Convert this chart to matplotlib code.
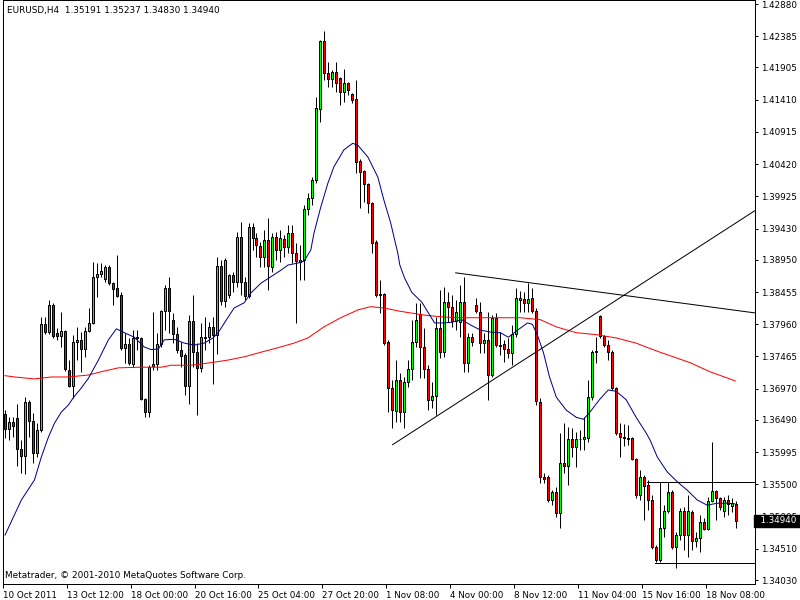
import matplotlib.pyplot as plt

# EURUSD H4 candles, bar 0 = first visible bar
opens = [1.3658, 1.3635, 1.3646, 1.3652, 1.3604, 1.3594, 1.3677, 1.3647, 1.3598, 1.3634,
         1.3796, 1.3784, 1.3826, 1.3783, 1.3778, 1.3786, 1.3726, 1.3701, 1.3769, 1.3772,
         1.3758, 1.3786, 1.3798, 1.3869, 1.3873, 1.3866, 1.3884, 1.3859, 1.3852, 1.3841,
         1.3760, 1.3766, 1.3735, 1.3776, 1.3775, 1.3681, 1.3661, 1.3732, 1.3735, 1.3766,
         1.3816, 1.3852, 1.3803, 1.3781, 1.3757, 1.3749, 1.3701, 1.3801, 1.3753, 1.3729,
         1.3776, 1.3776, 1.3792, 1.3780, 1.3886, 1.3832, 1.3841, 1.3872, 1.3861, 1.3930,
         1.3861, 1.3839, 1.3945, 1.3928, 1.3916, 1.3899, 1.3926, 1.3884, 1.3930, 1.3910,
         1.3927, 1.3915, 1.3936, 1.3906, 1.3892, 1.3895, 1.3973, 1.3990, 1.4018, 1.4127,
         1.4231, 1.4182, 1.4173, 1.4184, 1.4174, 1.4153, 1.4167, 1.4150, 1.4142, 1.4047,
         1.4031, 1.4012, 1.3982, 1.3922, 1.3842, 1.3842, 1.3769, 1.3698, 1.3663, 1.3710,
         1.3661, 1.3707, 1.3727, 1.3769, 1.3812, 1.3761, 1.3727, 1.3680, 1.3686, 1.3790,
         1.3753, 1.3830, 1.3823, 1.3801, 1.3799, 1.3830, 1.3737, 1.3776, 1.3826, 1.3815,
         1.3767, 1.3772, 1.3718, 1.3806, 1.3764, 1.3766, 1.3758, 1.3752, 1.3781, 1.3833,
         1.3835, 1.3829, 1.3836, 1.3816, 1.3677, 1.3561, 1.3561, 1.3526, 1.3538, 1.3506,
         1.3583, 1.3578, 1.3620, 1.3607, 1.3620, 1.3620, 1.3621, 1.3684, 1.3753, 1.3809,
         1.3778, 1.3764, 1.3753, 1.3698, 1.3629, 1.3623, 1.3621, 1.3621, 1.3589, 1.3534,
         1.3561, 1.3549, 1.3526, 1.3454, 1.3434, 1.3483, 1.3509, 1.3538, 1.3454, 1.3472,
         1.3509, 1.3472, 1.3508, 1.3463, 1.3468, 1.3492, 1.3481, 1.3524, 1.3540, 1.3529,
         1.3509, 1.3526, 1.3517, 1.35191]
highs = [1.3664, 1.3654, 1.3654, 1.3674, 1.3618, 1.3684, 1.3680, 1.3660, 1.3644, 1.3807,
         1.3807, 1.3833, 1.3829, 1.3790, 1.3815, 1.3787, 1.3741, 1.3780, 1.3792, 1.3784,
         1.3792, 1.3821, 1.3892, 1.3890, 1.3890, 1.3887, 1.3887, 1.3861, 1.3902, 1.3846,
         1.3783, 1.3775, 1.3787, 1.3787, 1.3776, 1.3683, 1.3734, 1.3815, 1.3783, 1.3818,
         1.3856, 1.3869, 1.3813, 1.3792, 1.3769, 1.3752, 1.3810, 1.3841, 1.3767, 1.3798,
         1.3807, 1.3799, 1.3807, 1.3899, 1.3895, 1.3898, 1.3873, 1.3876, 1.3938, 1.3953,
         1.3869, 1.3952, 1.3952, 1.3936, 1.3922, 1.3941, 1.3959, 1.3936, 1.3938, 1.3941,
         1.3933, 1.3949, 1.3949, 1.3921, 1.3918, 1.3979, 1.3998, 1.4022, 1.4145, 1.4233,
         1.4247, 1.4199, 1.4187, 1.4199, 1.4176, 1.4188, 1.4168, 1.4151, 1.4171, 1.4050,
         1.4033, 1.4013, 1.3984, 1.3926, 1.3864, 1.3844, 1.3772, 1.3710, 1.3741, 1.3721,
         1.3715, 1.3741, 1.3803, 1.3829, 1.3829, 1.3790, 1.3734, 1.3707, 1.3807, 1.3849,
         1.3853, 1.3846, 1.3841, 1.3833, 1.3856, 1.3869, 1.3783, 1.3783, 1.3836, 1.3830,
         1.3783, 1.3815, 1.3810, 1.3813, 1.3784, 1.3772, 1.3775, 1.3795, 1.3852, 1.3847,
         1.3846, 1.3859, 1.3852, 1.3821, 1.3683, 1.3567, 1.3564, 1.3541, 1.3546, 1.3629,
         1.3644, 1.3638, 1.3637, 1.3630, 1.3634, 1.3654, 1.3710, 1.3757, 1.3776, 1.3810,
         1.3780, 1.3772, 1.3757, 1.3700, 1.3644, 1.3643, 1.3641, 1.3623, 1.3590, 1.3572,
         1.3564, 1.3557, 1.3534, 1.3457, 1.3554, 1.3518, 1.3554, 1.3541, 1.3477, 1.3514,
         1.3515, 1.3534, 1.3511, 1.3477, 1.3503, 1.3498, 1.3530, 1.3615, 1.3541, 1.3530,
         1.3530, 1.3534, 1.3529, 1.35237]
lows = [1.3621, 1.3618, 1.3623, 1.3578, 1.3567, 1.3566, 1.3623, 1.3583, 1.3592, 1.3630,
        1.3781, 1.3781, 1.3775, 1.3772, 1.3761, 1.3724, 1.3700, 1.3683, 1.3741, 1.3723,
        1.3746, 1.3784, 1.3796, 1.3838, 1.3869, 1.3861, 1.3856, 1.3826, 1.3838, 1.3757,
        1.3737, 1.3733, 1.3730, 1.3757, 1.3680, 1.3654, 1.3654, 1.3726, 1.3726, 1.3761,
        1.3787, 1.3783, 1.3767, 1.3752, 1.3730, 1.3687, 1.3674, 1.3730, 1.3657, 1.3723,
        1.3757, 1.3767, 1.3704, 1.3750, 1.3826, 1.3823, 1.3836, 1.3846, 1.3853, 1.3841,
        1.3833, 1.3836, 1.3910, 1.3899, 1.3884, 1.3884, 1.3849, 1.3876, 1.3895, 1.3892,
        1.3899, 1.3906, 1.3890, 1.3798, 1.3864, 1.3864, 1.3964, 1.3979, 1.4013, 1.4107,
        1.4171, 1.4161, 1.4161, 1.4153, 1.4133, 1.4138, 1.4148, 1.4136, 1.4028, 1.3975,
        1.3984, 1.3967, 1.3906, 1.3838, 1.3813, 1.3764, 1.3661, 1.3637, 1.3646, 1.3646,
        1.3637, 1.3700, 1.3710, 1.3761, 1.3713, 1.3713, 1.3664, 1.3667, 1.3657, 1.3744,
        1.3746, 1.3799, 1.3792, 1.3787, 1.3776, 1.3723, 1.3723, 1.3763, 1.3813, 1.3752,
        1.3752, 1.3680, 1.3715, 1.3761, 1.3749, 1.3738, 1.3744, 1.3733, 1.3776, 1.3815,
        1.3815, 1.3815, 1.3813, 1.3672, 1.3552, 1.3552, 1.3523, 1.3518, 1.3500, 1.3483,
        1.3567, 1.3549, 1.3592, 1.3577, 1.3603, 1.3603, 1.3615, 1.3680, 1.3737, 1.3775,
        1.3761, 1.3741, 1.3695, 1.3626, 1.3592, 1.3609, 1.3610, 1.3587, 1.3529, 1.3526,
        1.3495, 1.3511, 1.3451, 1.3431, 1.3431, 1.3469, 1.3506, 1.3451, 1.3422, 1.3465,
        1.3449, 1.3438, 1.3449, 1.3454, 1.3446, 1.3480, 1.3480, 1.3523, 1.3495, 1.3511,
        1.3500, 1.3503, 1.3508, 1.34830]
closes = [1.3635, 1.3646, 1.3640, 1.3604, 1.3594, 1.3677, 1.3647, 1.3598, 1.3634, 1.3796,
          1.3784, 1.3826, 1.3778, 1.3778, 1.3786, 1.3727, 1.3701, 1.3769, 1.3772, 1.3758,
          1.3786, 1.3798, 1.3869, 1.3873, 1.3878, 1.3884, 1.3859, 1.3850, 1.3839, 1.3760,
          1.3766, 1.3737, 1.3775, 1.3775, 1.3681, 1.3661, 1.3730, 1.3735, 1.3766, 1.3816,
          1.3852, 1.3816, 1.3781, 1.3757, 1.3747, 1.3701, 1.3801, 1.3753, 1.3729, 1.3776,
          1.3775, 1.3792, 1.3780, 1.3886, 1.3832, 1.3895, 1.3872, 1.3861, 1.3930, 1.3861,
          1.3839, 1.3945, 1.3928, 1.3918, 1.3899, 1.3926, 1.3886, 1.3930, 1.3910, 1.3928,
          1.3915, 1.3936, 1.3906, 1.3893, 1.3895, 1.3973, 1.3990, 1.4018, 1.4128, 1.4231,
          1.4182, 1.4173, 1.4184, 1.4167, 1.4153, 1.4167, 1.4156, 1.4141, 1.4045, 1.4030,
          1.4012, 1.3982, 1.3921, 1.3841, 1.3841, 1.3767, 1.3698, 1.3664, 1.3710, 1.3661,
          1.3707, 1.3727, 1.3769, 1.3803, 1.3761, 1.3727, 1.3680, 1.3686, 1.3790, 1.3753,
          1.3830, 1.3823, 1.3801, 1.3815, 1.3830, 1.3737, 1.3776, 1.3769, 1.3816, 1.3767,
          1.3772, 1.3718, 1.3806, 1.3764, 1.3763, 1.3758, 1.3752, 1.3781, 1.3836, 1.3836,
          1.3829, 1.3835, 1.3816, 1.3678, 1.3561, 1.3558, 1.3526, 1.3538, 1.3506, 1.3583,
          1.3578, 1.3620, 1.3607, 1.3620, 1.3619, 1.3623, 1.3684, 1.3753, 1.3755, 1.3778,
          1.3764, 1.3753, 1.3698, 1.3629, 1.3623, 1.3621, 1.3620, 1.3589, 1.3534, 1.3561,
          1.3547, 1.3526, 1.3454, 1.3434, 1.3483, 1.3509, 1.3538, 1.3454, 1.3472, 1.3509,
          1.3472, 1.3509, 1.3463, 1.3468, 1.3492, 1.3481, 1.3524, 1.3540, 1.3529, 1.3515,
          1.3526, 1.3520, 1.3521, 1.34940]

# moving averages at these bar positions
fast_bars = [0, 4.1, 7.4, 9.1, 10.9, 12.4, 14.1, 15.9, 17.1, 19.1, 20.9, 23.4, 25.9, 27.9,
             29.9, 32.4, 34.9, 36.6, 38.4, 39.9, 42.4, 44.9, 47.4, 49.9, 52.1, 53.4, 55.9,
             57.4, 59.9, 61.6, 64.1, 66.6, 69.1, 70.9, 73.4, 74.9, 76.6, 77.4, 79.1, 80.9,
             82.4, 84.9, 87.1, 88.4, 90.9, 93.4, 94.9, 96.6, 98.4, 98.9, 100.1, 101.9, 104.4,
             105.9, 107.6, 109.6, 111.9, 114.4, 116.6, 119.1, 121.6, 124.1, 126.1, 128.4,
             130.9, 132.1, 133.4, 134.9, 136.4, 138.1, 140.6, 143.1, 144.9, 146.4, 148.9,
             151.1, 153.1, 155.6, 158.1, 160.6, 161.6, 163.4, 165.9, 168.4, 170.9, 173.4,
             175.9, 178.4, 180.9, 182.9]
ma_fast = [1.3472, 1.3526, 1.3557, 1.3592, 1.3623, 1.3644, 1.3661, 1.3672, 1.3683, 1.3698,
           1.3713, 1.3741, 1.3772, 1.3789, 1.3783, 1.3776, 1.3761, 1.3757, 1.3758, 1.3772,
           1.3773, 1.3767, 1.3764, 1.3767, 1.3775, 1.3783, 1.3807, 1.3821, 1.3829, 1.3844,
           1.3859, 1.3869, 1.3879, 1.3887, 1.3890, 1.3893, 1.3910, 1.3936, 1.3976, 1.4013,
           1.4038, 1.4064, 1.4074, 1.4071, 1.4053, 1.4022, 1.3987, 1.3952, 1.3905, 1.3887,
           1.3867, 1.3845, 1.3830, 1.3815, 1.3798, 1.3798, 1.3799, 1.3803, 1.3795, 1.3787,
           1.3784, 1.3783, 1.3776, 1.3787, 1.3798, 1.3796, 1.3779, 1.3752, 1.3715, 1.3684,
           1.3664, 1.3653, 1.3650, 1.3660, 1.3680, 1.3695, 1.3693, 1.3680, 1.3653, 1.3629,
           1.3618, 1.3592, 1.3569, 1.3554, 1.3541, 1.3526, 1.3518, 1.3521, 1.3521, 1.3520]
slow_bars = [0, 2.4, 7.4, 11.6, 15.9, 20.9, 24.1, 28.4, 34.1, 39.1, 41.6, 46.6, 51.6, 55.9,
             59.9, 64.1, 68.4, 72.4, 75.9, 79.9, 84.1, 88.4, 91.6, 94.9, 98.9, 105.1, 110.1,
             115.1, 124.1, 129.1, 134.1, 138.1, 143.1, 148.1, 153.1, 158.1, 160.6, 164.1,
             171.6, 176.6, 182.9]
ma_slow = [1.3717, 1.3715, 1.3712, 1.3715, 1.3715, 1.3718, 1.3723, 1.3729, 1.3730, 1.3730,
           1.3733, 1.3733, 1.3737, 1.3741, 1.3746, 1.3753, 1.3760, 1.3767, 1.3775, 1.3792,
           1.3806, 1.3818, 1.3823, 1.3821, 1.3816, 1.3810, 1.3807, 1.3806, 1.3806, 1.3806,
           1.3803, 1.3792, 1.3783, 1.3780, 1.3775, 1.3767, 1.3761, 1.3753, 1.3737, 1.3723,
           1.3709]

# drawn objects: trendlines (two anchor points, ray to the right) and horizontal rays
trend_up = ([97.1, 154.4], [1.3611, 1.3838])
trend_down = ([112.9, 161.6], [1.3875, 1.3835])
hline_top = (160.9, 1.3553)
hline_bottom = (162.9, 1.3429)

price_ticks = [1.42880, 1.42385, 1.41905, 1.41410, 1.40915, 1.40420, 1.39925, 1.39430,
               1.38950, 1.38455, 1.37960, 1.37465, 1.36970, 1.36490, 1.35995, 1.35500,
               1.35005, 1.34510, 1.34030]
date_labels = ["10 Oct 2011", "13 Oct 12:00", "18 Oct 00:00", "20 Oct 16:00", "25 Oct 04:00",
               "27 Oct 20:00", "1 Nov 08:00", "4 Nov 00:00", "8 Nov 12:00", "11 Nov 04:00",
               "15 Nov 16:00", "18 Nov 08:00"]
date_bars = [0, 16, 32, 48, 64, 80, 96, 112, 128, 144, 160, 176]

px = 0.72  # one pixel in points at 100 dpi
font = "DejaVu Sans"

fig = plt.figure(figsize=(8, 6), dpi=100)
ax = fig.add_axes([3 / 800, 16 / 600, 752 / 800, 584 / 600])
ax.set_xlim(-0.125, 187.875)
ax.set_ylim(1.33969, 1.42942)

n = len(opens)
x = list(range(n))
ax.vlines(x, lows, highs, color="black", linewidth=px, zorder=2)
bottoms = [min(o, c) for o, c in zip(opens, closes)]
heights = [abs(c - o) for o, c in zip(opens, closes)]
fills = ["#00FF00" if c > o else "#FF0000" for o, c in zip(opens, closes)]
ax.bar(x, heights, bottom=bottoms, width=0.5, color=fills, edgecolor="black",
       linewidth=px, zorder=3)

ax.plot(slow_bars, ma_slow, color="#FF0000", linewidth=px, zorder=4)
ax.plot(fast_bars, ma_fast, color="#000080", linewidth=px, zorder=4)

x_right = 187.875
for bx, py in (trend_up, trend_down):
    slope = (py[1] - py[0]) / (bx[1] - bx[0])
    ax.plot([bx[0], x_right], [py[0], py[0] + slope * (x_right - bx[0])],
            color="black", linewidth=px, zorder=5)
for bx, py in (hline_top, hline_bottom):
    ax.plot([bx, x_right], [py, py], color="black", linewidth=px, zorder=5)

for s in ax.spines.values():
    s.set_linewidth(px)
    s.set_color("black")

ax.yaxis.tick_right()
ax.set_yticks(price_ticks, labels=[f"{p:.5f}" for p in price_ticks])
ax.tick_params(axis="y", direction="out", length=2.5, width=px, pad=2,
               labelsize=6.3, colors="black")
ax.set_xticks([b - 0.5 for b in date_bars], labels=date_labels)
ax.tick_params(axis="x", direction="out", length=3, width=px, pad=2,
               labelsize=6.3, colors="black")
for lbl in ax.get_xticklabels():
    lbl.set_horizontalalignment("left")
for lbl in ax.get_xticklabels() + ax.get_yticklabels():
    lbl.set_fontfamily(font)

# header and footer text
fig.text(7 / 800, 1 - 11 / 600, "EURUSD,H4  1.35191 1.35237 1.34830 1.34940",
         fontsize=6.4, family=font, va="center", ha="left")
fig.text(5 / 800, 1 - 575 / 600, "Metatrader, © 2001-2010 MetaQuotes Software Corp.",
         fontsize=6.4, family=font, va="center", ha="left")

# current price marker on the axis (covers the 1.35005 label, as in MetaTrader)
ax.text(1.0, closes[-1], f"  {closes[-1]:.5f} ", transform=ax.get_yaxis_transform(),
        ha="left", va="center", fontsize=6.3, family=font, color="white",
        bbox=dict(boxstyle="square,pad=0.15", facecolor="black", edgecolor="black"),
        clip_on=False, zorder=10)

fig.savefig("out.png", dpi=100, facecolor="white")
